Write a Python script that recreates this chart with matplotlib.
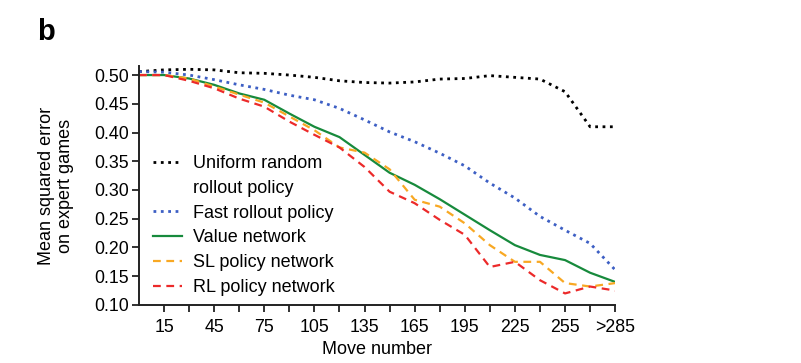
import numpy as np
import matplotlib
matplotlib.use('Agg')
import matplotlib.pyplot as plt
from matplotlib.lines import Line2D

plt.rcParams['font.family'] = ['Liberation Sans', 'DejaVu Sans']

moves = [0, 15, 30, 45, 60, 75, 90, 105, 120, 135, 150, 165, 180, 195, 210, 225, 240, 255, 270, 285]
uniform_random = [0.506, 0.509, 0.510, 0.509, 0.504, 0.503, 0.500, 0.496, 0.490, 0.487, 0.486, 0.488,
                  0.493, 0.494, 0.499, 0.496, 0.493, 0.471, 0.410, 0.410]
fast_rollout = [0.506, 0.505, 0.500, 0.492, 0.483, 0.475, 0.465, 0.457, 0.442, 0.422, 0.401, 0.384,
                0.364, 0.342, 0.312, 0.286, 0.254, 0.230, 0.207, 0.161]
value_net = [0.500, 0.500, 0.494, 0.483, 0.468, 0.457, 0.433, 0.410, 0.392, 0.361, 0.330, 0.309,
             0.284, 0.257, 0.230, 0.204, 0.187, 0.178, 0.156, 0.140]
sl_policy = [0.500, 0.500, 0.494, 0.480, 0.466, 0.452, 0.428, 0.404, 0.374, 0.365, 0.336, 0.283,
             0.271, 0.242, 0.204, 0.175, 0.175, 0.138, 0.132, 0.138]
rl_policy = [0.500, 0.500, 0.490, 0.477, 0.459, 0.445, 0.419, 0.396, 0.374, 0.340, 0.297, 0.277,
             0.248, 0.222, 0.166, 0.175, 0.143, 0.120, 0.132, 0.125]

tick_moves = list(range(15, 286, 15))
tick_labels = ['15', '', '45', '', '75', '', '105', '', '135', '', '165', '', '195', '',
               '225', '', '255', '', '>285']
y_ticks = [0.10, 0.15, 0.20, 0.25, 0.30, 0.35, 0.40, 0.45, 0.50]

fig = plt.figure(figsize=(8.01, 3.63), dpi=100)
ax = fig.add_axes([0.1735, 0.16, 0.5945, 0.657])

ax.plot(moves, uniform_random, color='black', ls=':', lw=2)
ax.plot(moves, fast_rollout, color='#3d5fc4', ls=':', lw=2)
ax.plot(moves, value_net, color='#178a3c', ls='-', lw=1.6)
ax.plot(moves, sl_policy, color='#f8a823', ls=(0, (3.5, 2.5)), lw=1.6)
ax.plot(moves, rl_policy, color='#ec2a2a', ls=(0, (3.5, 2.5)), lw=1.6)

ax.set_xlim(0, 285)
ax.set_ylim(0.10, 0.515)
ax.set_xticks(tick_moves)
ax.set_xticklabels(tick_labels)
ax.set_yticks(y_ticks)
ax.set_yticklabels(['%.2f' % v for v in y_ticks])
ax.tick_params(labelsize=12.8, width=1.3, length=5, color='#222222', pad=2.5)
ax.tick_params(axis='x', pad=5)

for side in ['top', 'right']:
    ax.spines[side].set_visible(False)
for side in ['left', 'bottom']:
    ax.spines[side].set_linewidth(1.4)
    ax.spines[side].set_color('#222222')

ax.set_xlabel('Move number', fontsize=13, labelpad=4)
ax.set_ylabel('Mean squared error\non expert games', fontsize=13, labelpad=14)

handles = [
    Line2D([], [], color='black', ls=':', lw=2),
    Line2D([], [], color='none'),
    Line2D([], [], color='#3d5fc4', ls=':', lw=2),
    Line2D([], [], color='#178a3c', ls='-', lw=1.6),
    Line2D([], [], color='#f8a823', ls=(0, (3.5, 2.5)), lw=1.6),
    Line2D([], [], color='#ec2a2a', ls=(0, (3.5, 2.5)), lw=1.6),
]
labels = ['Uniform random', 'rollout policy', 'Fast rollout policy', 'Value network',
          'SL policy network', 'RL policy network']
fig.legend(handles, labels, loc='upper left', bbox_to_anchor=(153 / 801, 1 - 155 / 363),
           frameon=False, fontsize=13, handlelength=1.6, handletextpad=0.62,
           labelspacing=0.43, borderpad=0, borderaxespad=0)

fig.text(37 / 801, 1 - 40 / 363, 'b', fontsize=21, fontweight='bold')

fig.savefig('out.png', dpi=100)
